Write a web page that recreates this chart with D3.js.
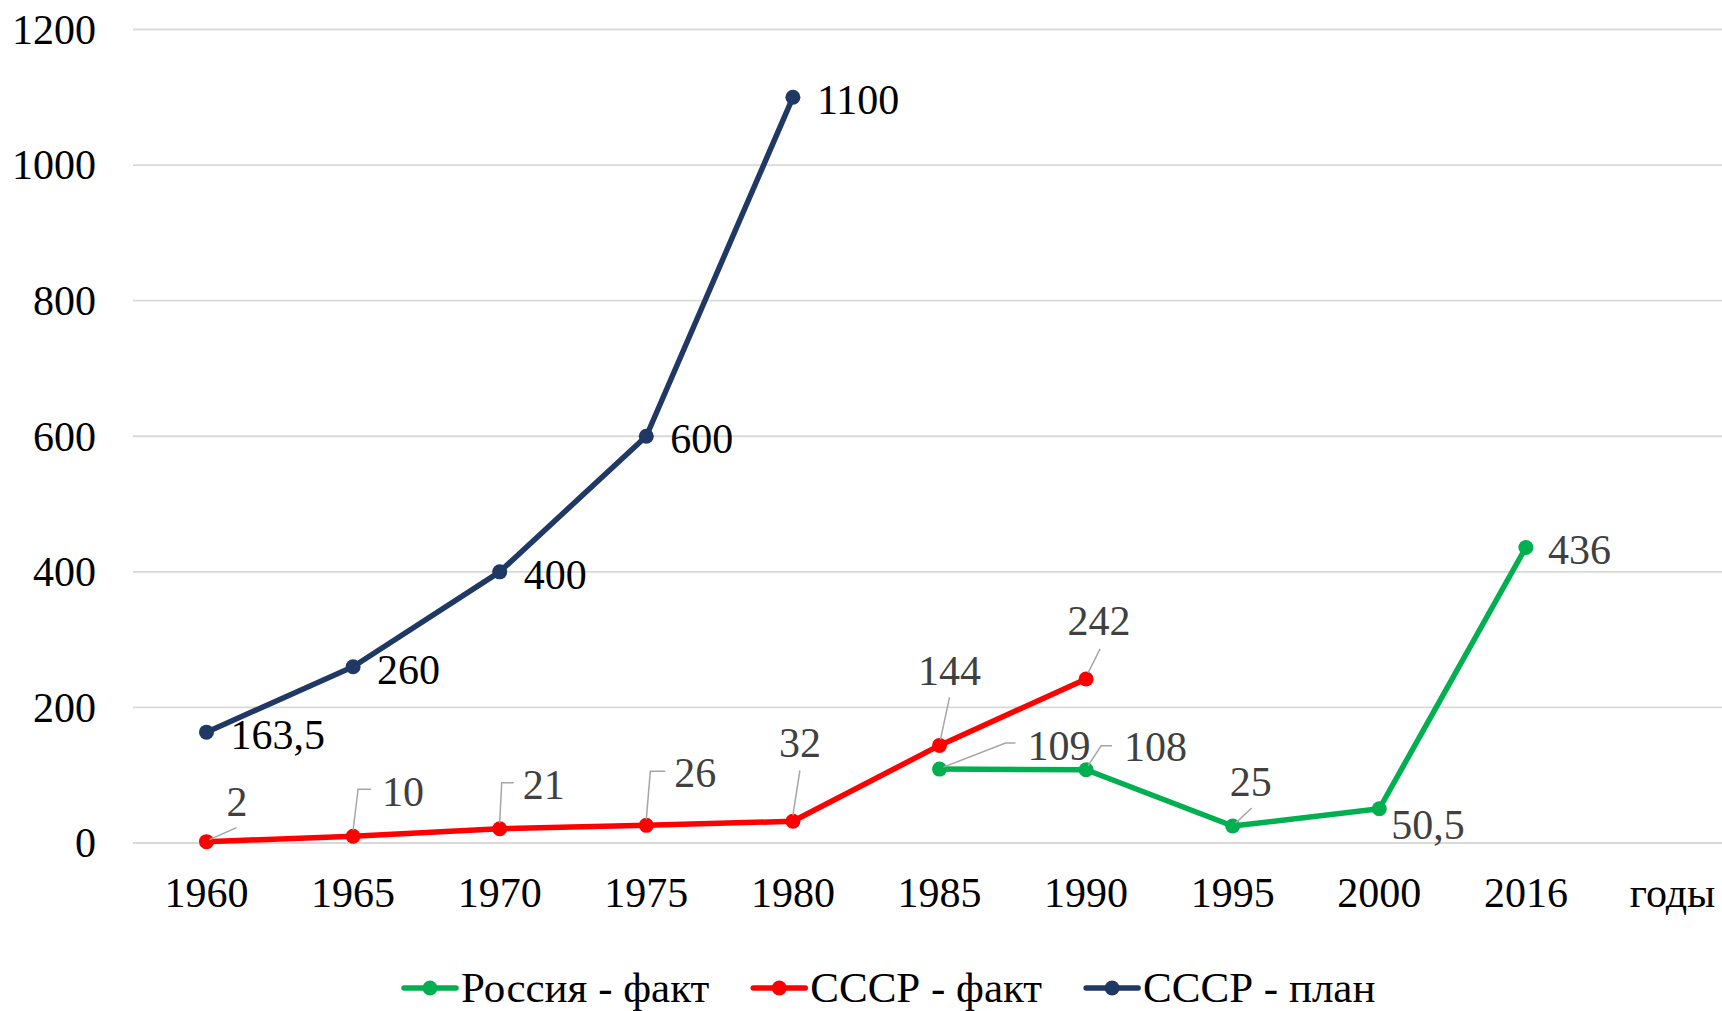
<!DOCTYPE html>
<html>
<head>
<meta charset="utf-8">
<script src="https://cdn.jsdelivr.net/npm/d3@7"></script>
<style>
  html, body { margin: 0; padding: 0; background: #fff; }
  svg { display: block; }
  text { font-family: "Liberation Serif", "Times New Roman", serif; }
</style>
</head>
<body>
<svg id="chart" width="1722" height="1011"></svg>
<script>
// ---------- data ----------
const categories = ["1960","1965","1970","1975","1980","1985","1990","1995","2000","2016"];
const axisTitle = "годы";
const yTicks = [0, 200, 400, 600, 800, 1000, 1200];
const russiaFact = [null, null, null, null, null, 109, 108, 25, 50.5, 436];
const ussrFact   = [2, 10, 21, 26, 32, 144, 242, null, null, null];
const ussrPlan   = [163.5, 260, 400, 600, 1100, null, null, null, null, null];
const seriesNames = ["Россия - факт", "СССР - факт", "СССР - план"];

// ---------- layout / style ----------
const W = 1722, H = 1011;
const colors = { russia: "#00B050", ussr: "#FF0000", plan: "#203864" };
const fontSize = 42;
const legendFontSize = 43;
const lineW = 5.5, markerR = 7.5;

// label placement (offsets from the point, px)
const planLabelOffset = { dx: 24, dy: 3 };
const ussrLabelLayout = [
  { dx: 20, dy: -40, anchor: "start",  leader: [[3,-2],[30,-14]] },
  { dx: 29, dy: -44, anchor: "start",  leader: [[0,-6],[5,-47],[18,-47]] },
  { dx: 23, dy: -44, anchor: "start",  leader: [[0,-6],[2,-46],[14,-46]] },
  { dx: 28, dy: -52, anchor: "start",  leader: [[0,-6],[4,-54],[19,-54]] },
  { dx: 7,  dy: -78, anchor: "middle", leader: [[0,-6],[7,-51]] },
  { dx: 10, dy: -74, anchor: "middle", leader: [[1,-6],[10,-48]] },
  { dx: 13, dy: -58, anchor: "middle", leader: [[2,-6],[14,-30]] }
];
const russiaLabelLayout = [
  { dx: 88, dy: -23, anchor: "start",  leader: [[4,-2],[66,-26],[76,-26]] },
  { dx: 38, dy: -23, anchor: "start",  leader: [[2,-4],[15,-24],[26,-24]] },
  { dx: 18, dy: -44, anchor: "middle", leader: [[3,-3],[19,-18]] },
  { dx: 12, dy: 16,  anchor: "start" },
  { dx: 22, dy: 3,   anchor: "start" }
];

const fmt = v => String(v).replace(".", ",");

const svg = d3.select("#chart");
svg.append("rect").attr("width", W).attr("height", H).attr("fill", "#fff");

const x = d3.scaleBand()
  .domain(categories.concat([axisTitle]))
  .range([133.2, 133.2 + 11 * 146.6])
  .paddingInner(0).paddingOuter(0);
const y = d3.scaleLinear().domain([0, 1200]).range([843, 29.5]);
const cx = c => x(c) + x.bandwidth() / 2;

// gridlines
svg.append("g").selectAll("line").data(yTicks).join("line")
  .attr("x1", 133).attr("x2", W)
  .attr("y1", d => y(d)).attr("y2", d => y(d))
  .attr("stroke", "#d9d9d9").attr("stroke-width", 1.8);

// y axis labels
const yAxis = d3.axisLeft(y).tickValues(yTicks).tickSize(0).tickPadding(0).tickFormat(d => d);
const yg = svg.append("g").attr("transform", "translate(96,0)").call(yAxis);
yg.select(".domain").remove();
yg.selectAll("text").attr("font-size", fontSize).attr("fill", "#000")
  .attr("font-family", "Liberation Serif").attr("dy", "0.33em");

// x axis labels
const xAxis = d3.axisBottom(x).tickSize(0).tickPadding(0);
const xg = svg.append("g").attr("transform", "translate(0,877)").call(xAxis);
xg.select(".domain").remove();
xg.selectAll("text").attr("font-size", fontSize).attr("fill", "#000")
  .attr("font-family", "Liberation Serif").attr("dy", "0.71em");

// series
const series = [
  { key: "russia", values: russiaFact, color: colors.russia, labelColor: "#404040", layout: russiaLabelLayout },
  { key: "ussr",   values: ussrFact,   color: colors.ussr,   labelColor: "#404040", layout: ussrLabelLayout },
  { key: "plan",   values: ussrPlan,   color: colors.plan,   labelColor: "#000000", layout: null }
];

const line = d3.line()
  .defined(d => d.v != null)
  .x(d => cx(d.c)).y(d => y(d.v));

const drawOrder = ["plan", "ussr", "russia"];
drawOrder.forEach(k => {
  const s = series.find(z => z.key === k);
  const pts = categories.map((c, i) => ({ c, v: s.values[i] }));
  const g = svg.append("g");
  g.append("path").datum(pts).attr("d", line)
    .attr("fill", "none").attr("stroke", s.color).attr("stroke-width", lineW)
    .attr("stroke-linejoin", "round").attr("stroke-linecap", "round");
  const valid = pts.filter(d => d.v != null);
  g.selectAll("circle").data(valid).join("circle")
    .attr("cx", d => cx(d.c)).attr("cy", d => y(d.v)).attr("r", markerR)
    .attr("fill", s.color);
});

// labels (after all lines)
series.forEach(s => {
  const valid = categories.map((c, i) => ({ c, v: s.values[i] })).filter(d => d.v != null);
  const g = svg.append("g");
  valid.forEach((d, i) => {
    const px = cx(d.c), py = y(d.v);
    const L = s.layout ? s.layout[i] : { dx: planLabelOffset.dx, dy: planLabelOffset.dy, anchor: "start" };
    if (L.leader) {
      g.append("polyline")
        .attr("points", L.leader.map(p => (px + p[0]) + "," + (py + p[1])).join(" "))
        .attr("fill", "none").attr("stroke", "#a6a6a6").attr("stroke-width", 1.5);
    }
    g.append("text")
      .attr("x", px + L.dx).attr("y", py + L.dy)
      .attr("dy", "0.33em")
      .attr("text-anchor", L.anchor)
      .attr("font-size", fontSize)
      .attr("fill", s.labelColor)
      .text(fmt(d.v));
  });
});

// legend
const legendY = 988;
const legendColors = [colors.russia, colors.ussr, colors.plan];
let lx = 404;
const lg = svg.append("g");
seriesNames.forEach((name, i) => {
  const item = lg.append("g");
  item.append("line").attr("x1", lx).attr("x2", lx + 52).attr("y1", legendY).attr("y2", legendY)
    .attr("stroke", legendColors[i]).attr("stroke-width", lineW).attr("stroke-linecap", "round");
  item.append("circle").attr("cx", lx + 26).attr("cy", legendY).attr("r", markerR).attr("fill", legendColors[i]);
  const t = item.append("text").attr("x", lx + 57).attr("y", legendY).attr("dy", "0.33em")
    .attr("font-size", legendFontSize).attr("fill", "#000").text(name);
  const w = t.node().getComputedTextLength();
  lx = lx + 57 + w + 44;
});
</script>
</body>
</html>
